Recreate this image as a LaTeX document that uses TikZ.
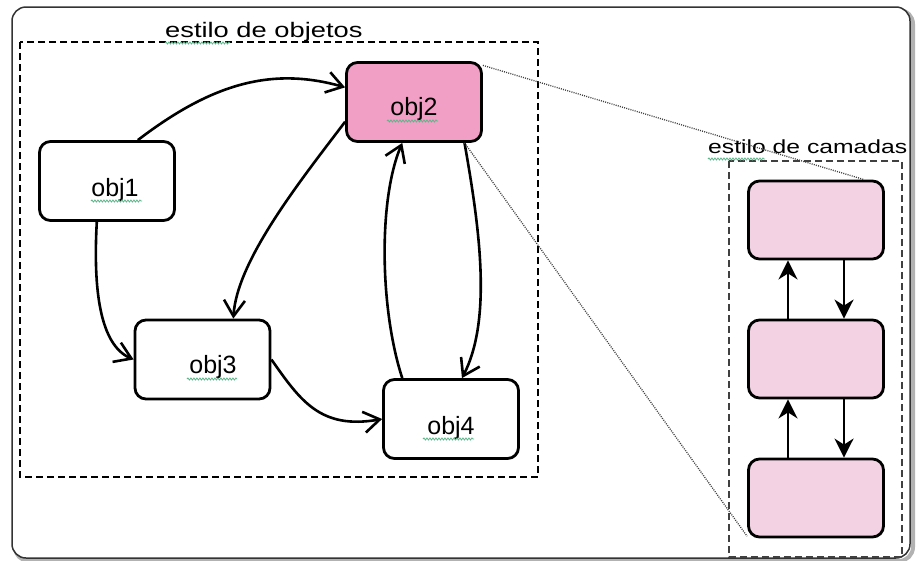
\documentclass[tikz,border=0pt]{standalone}
\usepackage{fontspec}
\setmainfont{Liberation Sans}
\newfontfamily\widefont[FakeStretch=1.3]{Liberation Sans}
\usetikzlibrary{arrows.meta,decorations.pathmorphing}
\definecolor{pinkA}{HTML}{F29FC5}
\definecolor{pinkB}{HTML}{F3D2E4}
\definecolor{squig}{HTML}{5DB58A}
\begin{document}
\begin{tikzpicture}[x=1pt,y=-1pt,
  objbox/.style={draw, line width=2.8pt, rounded corners=11pt, minimum width=135pt, minimum height=79pt, inner sep=0pt, text depth=0pt, font=\fontsize{25}{30}\selectfont, fill=white},
  layerbox/.style={draw, line width=2.8pt, rounded corners=11pt, minimum width=135pt, minimum height=78pt, inner sep=0pt, fill=pinkB},
  conn/.style={line width=2.6pt, -{Straight Barb[length=16pt,width=21pt]}},
  larrow/.style={line width=2.6pt, -{Stealth[length=19pt,width=19pt,inset=6pt]}},
  groupbox/.style={line width=2pt, dash pattern=on 7pt off 4pt},
  dotline/.style={line width=1.3pt, draw=black!75, dash pattern=on 1pt off 1.2pt},
  squigline/.style={draw=squig, line width=0.8pt, decorate, decoration={snake, amplitude=1pt, segment length=3pt}},
  grouplabel/.style={anchor=base west, inner sep=0pt}
]
\useasboundingbox (0,0) rectangle (920,560);
% frame with shadow
\draw[gray!60, line width=4pt, rounded corners=14pt] (15,10) rectangle (913,561);
\draw[line width=1.5pt, draw=black!80, fill=white, rounded corners=14pt] (12,7) rectangle (910,558);
% group boxes
\draw[groupbox] (20,42) rectangle (538,477);
\draw[groupbox, draw=black!75, line width=1.8pt] (729,161) rectangle (902,557);
\node[grouplabel, font=\widefont\fontsize{21}{24}\selectfont] (lab1) at (165,37) {estilo de objetos};
\node[grouplabel, font=\widefont\fontsize{19}{22}\selectfont] (lab2) at (708,153) {estilo de camadas};
% objects
\node[objbox, text height=30pt] (obj1) at (107,181) {\hspace*{16pt}obj1};
\node[objbox, text height=26pt, fill=pinkA] (obj2) at (414,102) {obj2};
\node[objbox, text height=27pt] (obj3) at (202.5,359.5) {\hspace*{21pt}obj3};
\node[objbox, text height=30pt] (obj4) at (451,419) {obj4};
% layers
\node[layerbox] (L1) at (816,220) {};
\node[layerbox] (L2) at (816,359) {};
\node[layerbox] (L3) at (816,498) {};
% squiggles
\draw[squigline] (165,43) -- (230,43);
\draw[squigline] (708,159) -- (765,159);
\draw[squigline] (91,201) -- (142,201);
\draw[squigline] (387,121) -- (438,121);
\draw[squigline] (187,379) -- (237,379);
\draw[squigline] (423,439) -- (474,439);
% connectors
\draw[conn] (obj1.53) .. controls (210,85) and (270,66) .. (obj2.168);
\draw[conn] (obj2.196) .. controls (301,180) and (237,260) .. (obj3.53);
\draw[conn] (obj1.256) .. controls (93,290) and (100,345) .. (obj3.180);
\draw[conn] (obj3.0) .. controls (300,400) and (320,430) .. (obj4.180);
\draw[conn] (obj4.140) .. controls (380,310) and (378,200) .. (obj2.254);
\draw[conn] (obj2.321) .. controls (480,230) and (492,320) .. (obj4.75);
% layer arrows
\draw[larrow] ([xshift=-28pt]L2.north) -- ([xshift=-28pt]L1.south);
\draw[larrow] ([xshift=28pt]L1.south) -- ([xshift=28pt]L2.north);
\draw[larrow] ([xshift=-28pt]L3.north) -- ([xshift=-28pt]L2.south);
\draw[larrow] ([xshift=28pt]L2.south) -- ([xshift=28pt]L3.north);
% zoom lines
\draw[dotline] (obj2.28) -- (L1.40);
\draw[dotline] (obj2.321) -- (L3.209);
\end{tikzpicture}
\end{document}
